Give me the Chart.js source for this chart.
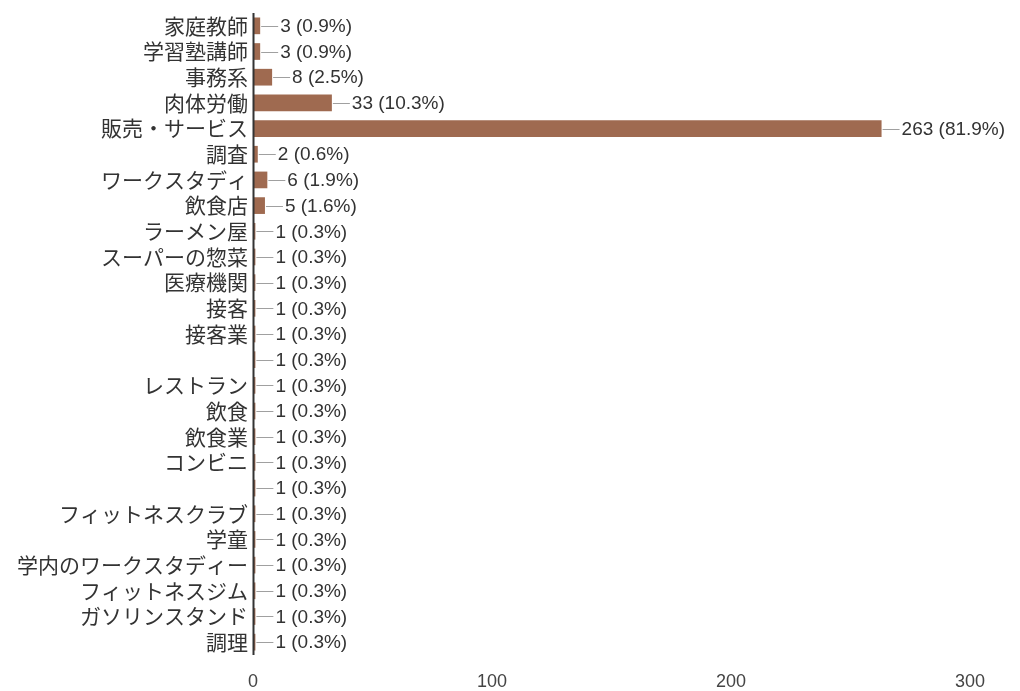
<!DOCTYPE html>
<html><head><meta charset="utf-8">
<script src="https://cdn.jsdelivr.net/npm/chart.js@4"></script>
<style>html,body{margin:0;padding:0;background:#fff}#wrap{width:1020px;height:691px}</style>
</head><body><div id="wrap"><canvas id="c" width="1020" height="691"></canvas></div>
<script>
const categories = ["家庭教師","学習塾講師","事務系","肉体労働","販売・サービス","調査","ワークスタディ","飲食店","ラーメン屋","スーパーの惣菜","医療機関","接客","接客業","","レストラン","飲食","飲食業","コンビニ","","フィットネスクラブ","学童","学内のワークスタディー","フィットネスジム","ガソリンスタンド","調理"];
const counts = [3,3,8,33,263,2,6,5,1,1,1,1,1,1,1,1,1,1,1,1,1,1,1,1,1];
const percents = ["0.9%","0.9%","2.5%","10.3%","81.9%","0.6%","1.9%","1.6%","0.3%","0.3%","0.3%","0.3%","0.3%","0.3%","0.3%","0.3%","0.3%","0.3%","0.3%","0.3%","0.3%","0.3%","0.3%","0.3%","0.3%"];
const xTicks = [0,100,200,300];

const FONT = "'Liberation Sans','Noto Sans CJK JP',Arial,sans-serif";

const labelPlugin = {
  id: 'valueLabels',
  afterDatasetsDraw(chart) {
    const ctx = chart.ctx;
    const meta = chart.getDatasetMeta(0);
    ctx.save();
    ctx.font = "19px " + FONT;
    ctx.textBaseline = 'middle';
    ctx.textAlign = 'left';
    meta.data.forEach((bar, i) => {
      const x = bar.x, y = bar.y;
      ctx.strokeStyle = '#a0a0a0';
      ctx.lineWidth = 1;
      ctx.beginPath();
      ctx.moveTo(x + 1, Math.round(y) + 0.5);
      ctx.lineTo(x + 18, Math.round(y) + 0.5);
      ctx.stroke();
      ctx.fillStyle = '#333';
      ctx.fillText(counts[i] + ' (' + percents[i] + ')', x + 20, y + 1);
    });
    const xs = chart.scales.x;
    const x0 = Math.round(xs.getPixelForValue(0)) + 0.5;
    ctx.strokeStyle = '#333';
    ctx.lineWidth = 2;
    ctx.beginPath();
    ctx.moveTo(x0, chart.chartArea.top);
    ctx.lineTo(x0, chart.chartArea.bottom);
    ctx.stroke();
    ctx.restore();
  }
};

new Chart(document.getElementById('c'), {
  type: 'bar',
  data: {
    labels: categories,
    datasets: [{
      data: counts,
      backgroundColor: '#9f6a50',
      barPercentage: 0.65,
      categoryPercentage: 1.0
    }]
  },
  options: {
    indexAxis: 'y',
    responsive: false,
    animation: false,
    layout: { padding: { left: 0, right: 50, top: 13, bottom: 0 } },
    plugins: { legend: { display: false }, tooltip: { enabled: false } },
    scales: {
      x: {
        min: 0, max: 300,
        afterBuildTicks(scale) { scale.ticks = xTicks.map(v => ({ value: v })); },
        grid: { display: false, drawTicks: false },
        border: { display: false },
        ticks: { color: '#444', font: { size: 18, family: FONT }, padding: 16 },
        afterFit(scale) { scale.height = 36; scale.paddingLeft = 0; scale.paddingRight = 0; }
      },
      y: {
        grid: { display: false, drawTicks: false },
        border: { display: false },
        ticks: { color: '#333', font: { size: 21, family: FONT }, padding: 5, autoSkip: false, labelOffset: 2 },
        afterFit(scale) { scale.width = 253; scale.paddingTop = 0; scale.paddingBottom = 0; }
      }
    }
  },
  plugins: [labelPlugin]
});
</script>
</body></html>
